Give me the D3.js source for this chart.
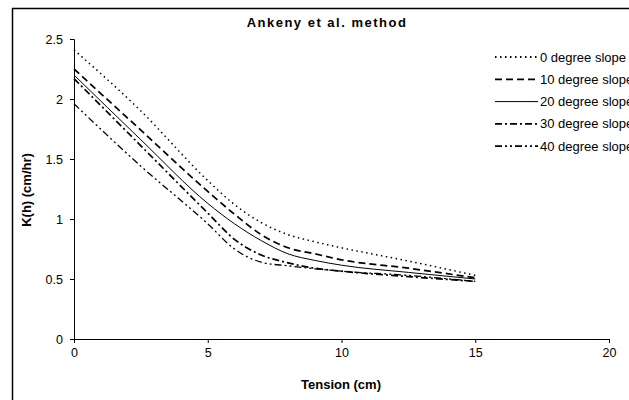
<!DOCTYPE html>
<html><head><meta charset="utf-8">
<script src="https://cdn.jsdelivr.net/npm/d3@7"></script>
<style>body{margin:0;background:#fff}svg{display:block}text{font-family:"Liberation Sans",Arial,sans-serif}</style>
</head><body><svg id="c" width="629" height="400"></svg>
<script>
const tension = [0, 2.5, 5, 6, 7, 8, 9, 10, 12.5, 15];
const seriesNames = ["0 degree slope","10 degree slope","20 degree slope","30 degree slope","40 degree slope"];
const deg0  = [2.41, 1.90, 1.32, 1.12, 0.97, 0.87, 0.81, 0.76, 0.65, 0.53];
const deg10 = [2.25, 1.74, 1.23, 1.04, 0.87, 0.76, 0.71, 0.66, 0.59, 0.51];
const deg20 = [2.20, 1.66, 1.13, 0.96, 0.82, 0.71, 0.655, 0.615, 0.555, 0.50];
const deg30 = [2.17, 1.61, 1.05, 0.83, 0.70, 0.635, 0.59, 0.565, 0.52, 0.48];
const deg40 = [1.96, 1.44, 0.96, 0.75, 0.64, 0.61, 0.585, 0.565, 0.53, 0.48];
const xTicks = [0, 5, 10, 15, 20];
const yTicks = [0, 0.5, 1, 1.5, 2, 2.5];
const yTickLabels = ["0","0.5","1","1.5","2","2.5"];
const allSeries = [deg0, deg10, deg20, deg30, deg40];
const dashes = ["1.5,3.5", "7,4", null, "7,3,2,3", "7,3,2,3,2,3"];
const widths = [1.5, 1.7, 1, 1.7, 1.3];

const svg = d3.select("#c");
svg.append("rect").attr("x",12.5).attr("y",8.5).attr("width",640).attr("height",420)
  .attr("fill","none").attr("stroke","#000").attr("stroke-width",1.5);

const x = d3.scaleLinear().domain([0,20]).range([74,609]);
const y = d3.scaleLinear().domain([0,2.5]).range([339,39]);

const xa = svg.append("g").attr("transform","translate(0,339)")
  .call(d3.axisBottom(x).tickValues(xTicks).tickSize(4).tickPadding(5).tickFormat(d3.format("d")));
const ya = svg.append("g").attr("transform","translate(74,0)")
  .call(d3.axisLeft(y).tickValues(yTicks).tickSize(4).tickPadding(7).tickFormat((d,i)=>yTickLabels[i]));
[xa,ya].forEach(g=>{
  g.select(".domain").attr("stroke","#000").attr("stroke-width",1);
  g.selectAll(".tick line").attr("stroke","#000");
  g.selectAll("text").attr("font-size",12.5).attr("fill","#000").attr("font-family","'Liberation Sans',Arial,sans-serif");
});

const line = d3.line().x((d,i)=>x(tension[i])).y(d=>y(d)).curve(d3.curveMonotoneX);
allSeries.forEach((s,k)=>{
  svg.append("path").datum(s).attr("d",line).attr("fill","none").attr("stroke","#000")
    .attr("stroke-width",widths[k]).attr("stroke-dasharray",dashes[k]);
});

svg.append("text").attr("x",327).attr("y",27).attr("text-anchor","middle")
  .attr("font-size",13).attr("font-weight","bold").attr("letter-spacing",1.5).text("Ankeny et al. method");
svg.append("text").attr("x",341).attr("y",389).attr("text-anchor","middle")
  .attr("font-size",13).attr("font-weight","bold").text("Tension (cm)");
svg.append("text").attr("transform","translate(31,190) rotate(-90)").attr("text-anchor","middle")
  .attr("font-size",13).attr("font-weight","bold").text("K(h) (cm/hr)");

const lg = svg.append("g");
seriesNames.forEach((n,k)=>{
  const yy = 57 + k*22.3;
  lg.append("line").attr("x1",495).attr("x2",538).attr("y1",yy).attr("y2",yy)
    .attr("stroke","#000").attr("stroke-width",widths[k]===1?1:1.8).attr("stroke-dasharray",dashes[k]);
  lg.append("text").attr("x",540).attr("y",yy+4.5).attr("font-size",13).text(n);
});
</script></body></html>
